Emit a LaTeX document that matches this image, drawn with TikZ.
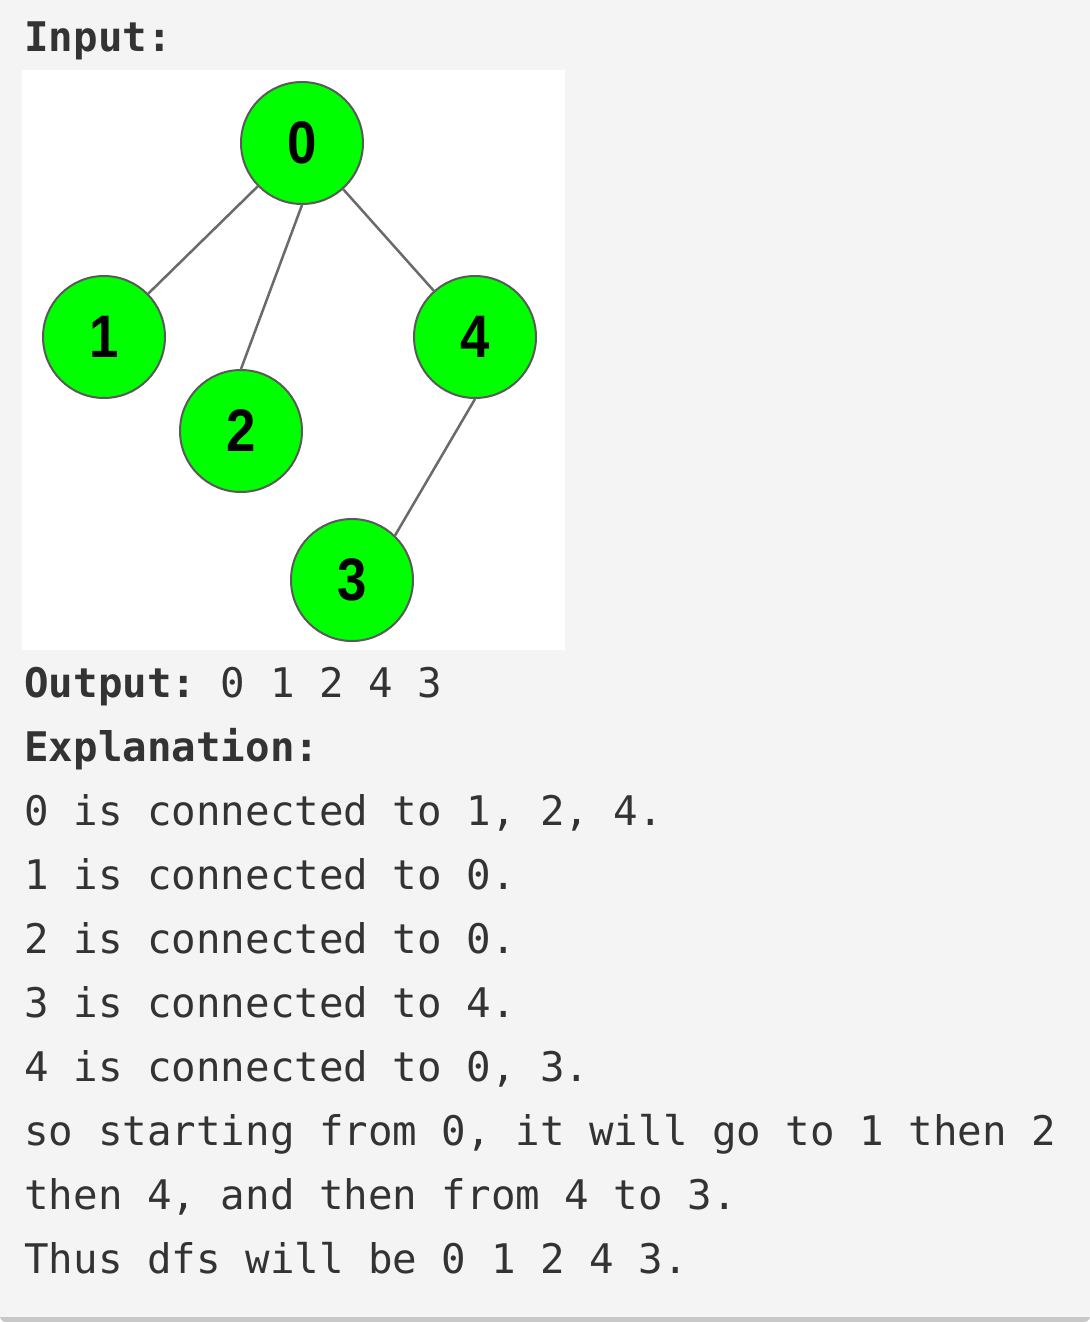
\documentclass[tikz,border=0pt]{standalone}
\usepackage{fontspec}
\setmonofont{DejaVu Sans Mono}
\newfontfamily\vertexfont{Liberation Sans}[FakeStretch=0.88]
\definecolor{panelbg}{HTML}{F4F4F4}
\definecolor{panelline}{HTML}{C8C8C8}
\definecolor{txtcol}{HTML}{333333}
\definecolor{vgreen}{HTML}{00FF00}
\definecolor{vline}{HTML}{5A5A5A}
\definecolor{ecol}{HTML}{6A6A6A}
\tikzset{
  vertex/.style={circle, draw=vline, line width=1pt, fill=vgreen, minimum size=61pt, inner sep=0pt,
    font=\vertexfont\bfseries\fontsize{30}{30}\selectfont},
  edge/.style={draw=ecol, line width=1.25pt},
  txt/.style={anchor=base west, inner sep=0pt, text=txtcol, font=\ttfamily\fontsize{20.4}{24}\selectfont}
}
\begin{document}
\begin{tikzpicture}[x=0.5pt, y=-0.5pt, line join=round, line cap=round]
	\useasboundingbox (0,0) rectangle (1090,1322);
	\fill[panelline, rounded corners=3pt] (0,0) rectangle (1090,1322);
	\fill[panelbg] (0,0) rectangle (1090,1317);
	\fill[white] (22,70) rectangle (565,650);
	% graph
	\path (302,143) node[vertex] (n0) {0}
		(104,337) node[vertex] (n1) {1}
		(241,431) node[vertex] (n2) {2}
		(352,580) node[vertex] (n3) {3}
		(475,337) node[vertex] (n4) {4};
	\foreach \a/\b in {n0/n1, n0.south/n2.north, n0/n4, n4.south/n3.46}
	\path[edge] (\a) -- (\b);
	% text
	\node[txt] (input) at (24,52) {\bfseries Input:};
	\node[txt] (output) at (24,697) {\textbf{Output:} 0 1 2 4 3};
	\node[txt] (expl) at (24,761) {\bfseries Explanation:};
	\foreach \t [count=\k] in {{0 is connected to 1, 2, 4.}, {1 is connected to 0.}, {2 is connected to 0.},
		{3 is connected to 4.}, {4 is connected to 0, 3.}, {so starting from 0, it will go to 1 then 2},
		{then 4, and then from 4 to 3.}, {Thus dfs will be 0 1 2 4 3.}}
	\node[txt] (line\k) at (24,{761+64*\k}) {\t};
\end{tikzpicture}
\end{document}
